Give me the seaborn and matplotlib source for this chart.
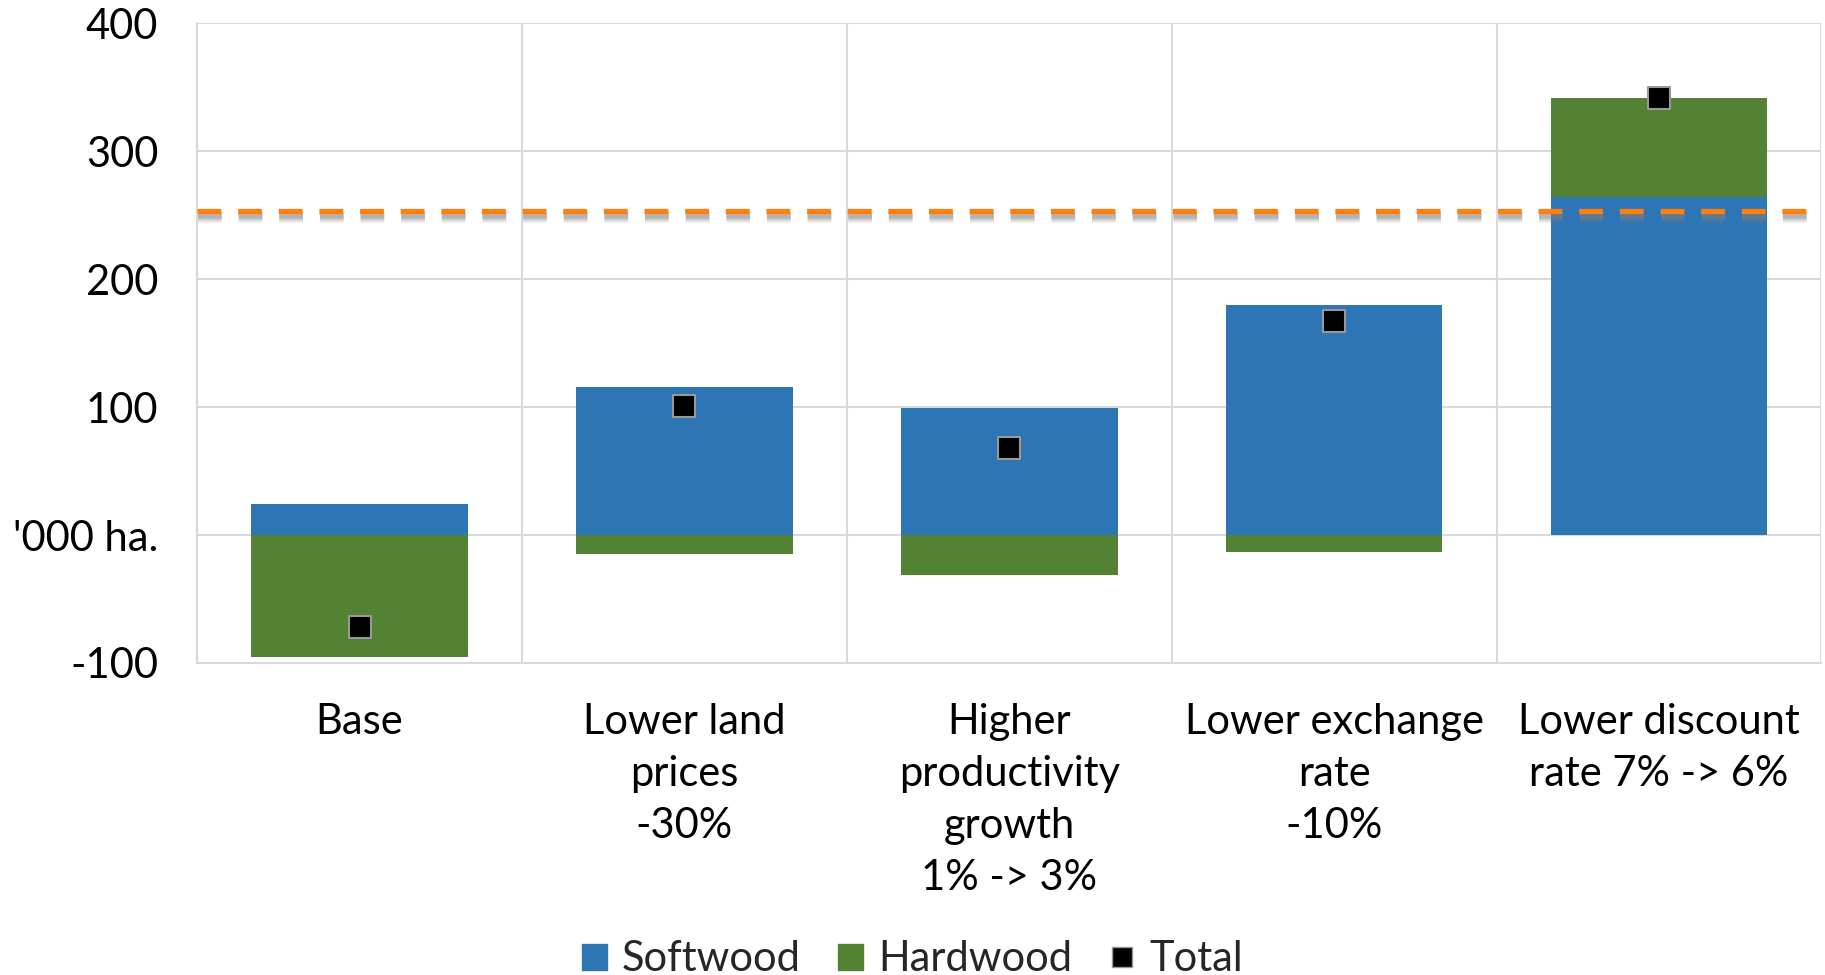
import numpy as np
import pandas as pd
import matplotlib
matplotlib.use("Agg")
import matplotlib.pyplot as plt
import matplotlib.patheffects as pe
from matplotlib.lines import Line2D
from matplotlib.patches import Patch
import seaborn as sns

# Data ('000 ha.)
scenarios = ["Base", "Lower land\nprices\n-30%", "Higher\nproductivity\ngrowth\n1% -> 3%",
             "Lower exchange\nrate\n-10%", "Lower discount\nrate 7% -> 6%"]
softwood = [24, 116, 99, 180, 264]
hardwood = [-95, -15, -31, -13, 78]
total = [-72, 101, 68, 167, 342]
threshold = 253.5

blue = "#2E75B6"
green = "#548235"

df = pd.DataFrame({"scenario": scenarios, "softwood": softwood,
                   "hardwood": hardwood, "total": total})
# green bars: positive hardwood sits on top of softwood, negative goes below zero
df["green_top"] = np.where(df["hardwood"] > 0, df["softwood"] + df["hardwood"], df["hardwood"])

sns.set_theme(style="white")
plt.rcParams["font.family"] = ["Lato", "DejaVu Sans"]

fig, ax = plt.subplots(figsize=(18.25, 9.75), dpi=100)
fig.subplots_adjust(left=0.108, right=0.998, top=0.976, bottom=0.32)

sns.barplot(data=df, x="scenario", y="green_top", color=green, width=0.667,
            saturation=1, linewidth=0, ax=ax, zorder=2)
sns.barplot(data=df, x="scenario", y="softwood", color=blue, width=0.667,
            saturation=1, linewidth=0, ax=ax, zorder=3)
sns.scatterplot(data=df, x="scenario", y="total", marker="s", s=230, color="black",
                edgecolor="#999999", linewidth=1.5, ax=ax, zorder=5)

# dashed threshold line with a soft shadow
ax.axhline(threshold, color="#FF7F0E", linewidth=3.8, dashes=(4.5, 3.2), zorder=6,
           path_effects=[pe.SimpleLineShadow(offset=(1, -3.5), shadow_color="grey", alpha=0.15, linewidth=10),
                         pe.SimpleLineShadow(offset=(1, -3.5), shadow_color="grey", alpha=0.25, linewidth=7),
                         pe.SimpleLineShadow(offset=(1, -3.5), shadow_color="grey", alpha=0.35, linewidth=4),
                         pe.Normal()])

ax.set_ylim(-100, 400)
ax.set_xlim(-0.5, 4.5)
ax.set_yticks([-100, 0, 100, 200, 300, 400])
ax.set_yticklabels(["-100", "'000 ha.", "100", "200", "300", "400"])
ax.set_xlabel("")
ax.set_ylabel("")

# grid lines at category boundaries and every 100
for x in np.arange(-0.5, 5, 1):
    ax.axvline(x, color="#D9D9D9", linewidth=1.5, zorder=0)
for y in [0, 100, 200, 300, 400]:
    ax.axhline(y, color="#D9D9D9", linewidth=1.5, zorder=0)
for side in ["top", "right"]:
    ax.spines[side].set_visible(False)
for side in ["left", "bottom"]:
    ax.spines[side].set_color("#D9D9D9")
    ax.spines[side].set_linewidth(1.5)

ax.tick_params(axis="y", labelsize=30, length=0, pad=28, colors="black")
ax.tick_params(axis="x", labelsize=30, length=0, pad=29, colors="black")
for lab in ax.get_xticklabels():
    lab.set_linespacing(1.45)

handles = [Patch(color=blue, label="Softwood"),
           Patch(color=green, label="Hardwood"),
           Line2D([], [], marker="s", linestyle="none", markersize=14, markerfacecolor="black",
                  markeredgecolor="#999999", label="Total")]
fig.legend(handles=handles, loc="lower center", bbox_to_anchor=(0.5, -0.042), ncol=3,
           frameon=False, fontsize=30, handlelength=0.6, handleheight=0.6,
           handletextpad=0.35, columnspacing=0.9)

fig.savefig("out.png", dpi=100)
